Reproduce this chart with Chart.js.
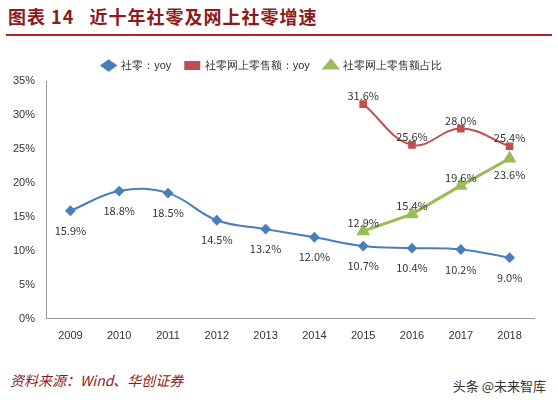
<!DOCTYPE html>
<html><head><meta charset="utf-8">
<script src="https://cdn.jsdelivr.net/npm/chart.js@4/dist/chart.umd.min.js"></script>
<style>
body{margin:0;width:558px;height:404px;background:#fff;font-family:"Noto Sans CJK SC",sans-serif;position:relative;overflow:hidden}
#title{position:absolute;left:8px;top:3px;font-size:18px;font-weight:bold;color:#8B1A1A;letter-spacing:1px}
#line{position:absolute;left:6px;top:34px;width:546px;height:2px;background:#B22222}
#wrap{position:absolute;left:0;top:46px;width:558px;height:300px}
#src{position:absolute;left:10px;top:370px;font-size:14px;font-style:italic;color:#8B1A1A}
#wm{position:absolute;right:12px;top:376px;font-size:13px;color:#333}
</style></head><body>
<div id="title">图表 14&nbsp;&nbsp;&nbsp;近十年社零及网上社零增速</div>
<div id="line"></div>
<div id="wrap"><canvas id="c"></canvas></div>
<div id="src">资料来源：Wind、华创证券</div>
<div id="wm">头条 @未来智库</div>
<script>
const years=['2009','2010','2011','2012','2013','2014','2015','2016','2017','2018'];
const retail=[15.9,18.8,18.5,14.5,13.2,12.0,10.7,10.4,10.2,9.0];
const online=[null,null,null,null,null,null,31.6,25.6,28.0,25.4];
const share=[null,null,null,null,null,null,12.9,15.4,19.6,23.6];
const labelPlugin={id:'lbl',afterDatasetsDraw(ch){
 const ctx=ch.ctx;ctx.save();ctx.font='11px "Noto Sans CJK SC",sans-serif';ctx.fillStyle='#333';ctx.textAlign='center';
 ch.data.datasets.forEach((ds,i)=>{const m=ch.getDatasetMeta(i);
  m.data.forEach((p,j)=>{const v=ds.data[j];if(v==null)return;
   let dy=i===0?16:-12;
   if(i===2&&j===9)dy=12;
   ctx.fillText(v.toFixed(1)+'%',p.x,p.y+dy+4);});});
 ctx.restore();}};
new Chart(document.getElementById('c'),{type:'line',
data:{labels:years,datasets:[
{label:'社零：yoy',data:retail,borderColor:'#4A7EBB',backgroundColor:'#4A7EBB',borderWidth:2,tension:0.4,pointStyle:'rectRot',pointRadius:4},
{label:'社零网上零售额：yoy',data:online,borderColor:'#C0504D',backgroundColor:'#C0504D',borderWidth:2,tension:0.4,pointStyle:'rect',pointRadius:4},
{label:'社零网上零售额占比',data:share,borderColor:'#9BBB59',backgroundColor:'#9BBB59',borderWidth:3,tension:0,pointStyle:'triangle',pointRadius:5}]},
options:{responsive:true,maintainAspectRatio:false,animation:false,
layout:{padding:{left:10,right:24,top:0,bottom:0}},
plugins:{legend:{labels:{usePointStyle:true,pointStyleWidth:14,boxHeight:7,padding:14,font:{size:11},color:'#333'}},tooltip:{enabled:false}},
scales:{x:{offset:true,grid:{display:false},border:{color:'#999'},ticks:{color:'#333',font:{size:11}}},
y:{min:0,max:35,ticks:{stepSize:5,callback:v=>v+'%',color:'#333',font:{size:11}},grid:{display:false},border:{color:'#999'}}}},
plugins:[labelPlugin]});
</script></body></html>
